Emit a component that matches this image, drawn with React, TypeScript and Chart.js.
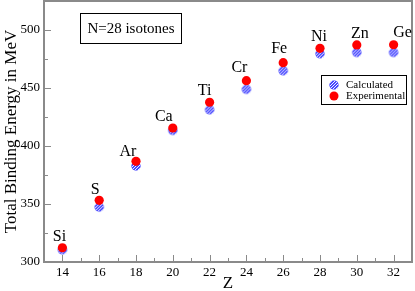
import React, { useEffect, useRef } from 'react';
import { Chart, registerables } from 'chart.js';

Chart.register(...registerables);

const elements = ['Si', 'S', 'Ar', 'Ca', 'Ti', 'Cr', 'Fe', 'Ni', 'Zn', 'Ge'];
const zValues = [14, 16, 18, 20, 22, 24, 26, 28, 30, 32];
const calculated = [310.6, 347.4, 382.8, 413.5, 431.3, 448.9, 464.9, 479.6, 480.7, 480.7];
const experimental = [312.3, 353.2, 386.8, 415.5, 437.7, 456.3, 471.8, 484.2, 487.1, 487.3];
const xTicks = [14, 16, 18, 20, 22, 24, 26, 28, 30, 32];
const yTicks = [300, 350, 400, 450, 500];
const xMinorTicks = [13, 15, 17, 19, 21, 23, 25, 27, 29, 31, 33];
const yMinorTicks = [325, 375, 425, 475, 525];

// label placement offsets (pixels) relative to the experimental point
const labelDx = [-3, -4, -8, -9, -5, -7, -4, -1, 3, 9];
const labelDy = [-11, -10, -10, -11, -11, -13, -14, -12, -11, -12];

const SERIF = '"Liberation Serif", "Times New Roman", Times, serif';
const FRAME = '#8a8a8a';

function makeHatchMarker(r: number): HTMLCanvasElement {
  const size = Math.ceil(r * 2 + 2);
  const c = document.createElement('canvas');
  c.width = size;
  c.height = size;
  const g = c.getContext('2d')!;
  const cx = size / 2;
  g.beginPath();
  g.arc(cx, cx, r, 0, Math.PI * 2);
  g.fillStyle = '#0000ff';
  g.fill();
  g.save();
  g.beginPath();
  g.arc(cx, cx, r, 0, Math.PI * 2);
  g.clip();
  g.strokeStyle = '#ffffff';
  g.lineWidth = 1.1;
  for (let k = -size; k < size * 2; k += 3) {
    g.beginPath();
    g.moveTo(k, size);
    g.lineTo(k + size, 0);
    g.stroke();
  }
  g.restore();
  return c;
}

function makeDecorPlugin(hm: HTMLCanvasElement) {
  return {
    id: 'decor',
    afterDraw(chart: any) {
      const { ctx, chartArea: a, scales } = chart;
      const xs = scales.x;
      const ys = scales.y;
      ctx.save();
      // frame
      ctx.strokeStyle = FRAME;
      ctx.lineWidth = 2;
      ctx.strokeRect(a.left, a.top, a.right - a.left, a.bottom - a.top);
      // ticks (inward)
      ctx.lineWidth = 1;
      ctx.beginPath();
      for (const v of xTicks) {
        const px = Math.round(xs.getPixelForValue(v)) + 0.5;
        ctx.moveTo(px, a.bottom);
        ctx.lineTo(px, a.bottom - 7);
      }
      for (const v of xMinorTicks) {
        const px = Math.round(xs.getPixelForValue(v)) + 0.5;
        ctx.moveTo(px, a.bottom);
        ctx.lineTo(px, a.bottom - 4);
      }
      for (const v of yTicks) {
        const py = Math.round(ys.getPixelForValue(v)) + 0.5;
        ctx.moveTo(a.left, py);
        ctx.lineTo(a.left + 7, py);
      }
      for (const v of yMinorTicks) {
        const py = Math.round(ys.getPixelForValue(v)) + 0.5;
        ctx.moveTo(a.left, py);
        ctx.lineTo(a.left + 4, py);
      }
      ctx.stroke();

      // axis titles
      ctx.fillStyle = '#000';
      ctx.font = `17px ${SERIF}`;
      ctx.textAlign = 'center';
      ctx.textBaseline = 'middle';
      ctx.fillText('Z', (a.left + a.right) / 2, 284);
      ctx.save();
      ctx.translate(12, (a.top + a.bottom) / 2);
      ctx.rotate(-Math.PI / 2);
      ctx.fillText('Total Binding Energy in MeV', 0, 0);
      ctx.restore();

      // element labels
      ctx.font = `16px ${SERIF}`;
      ctx.textAlign = 'center';
      ctx.textBaseline = 'middle';
      elements.forEach((el, i) => {
        const px = xs.getPixelForValue(zValues[i]);
        const py = ys.getPixelForValue(experimental[i]);
        ctx.fillText(el, px + labelDx[i], py + labelDy[i]);
      });

      // annotation box
      ctx.strokeStyle = '#000';
      ctx.lineWidth = 1;
      ctx.strokeRect(80.5, 13.5, 101, 30);
      ctx.font = `15px ${SERIF}`;
      ctx.fillText('N=28 isotones', 131, 29);

      // legend
      ctx.strokeRect(321.5, 75.5, 85, 29);
      ctx.drawImage(hm, 334 - hm.width / 2, 85 - hm.height / 2);
      ctx.beginPath();
      ctx.arc(334, 96, 4.5, 0, Math.PI * 2);
      ctx.fillStyle = '#ff0000';
      ctx.fill();
      ctx.fillStyle = '#000';
      ctx.font = `11px ${SERIF}`;
      ctx.textAlign = 'left';
      ctx.fillText('Calculated', 346, 85);
      ctx.fillText('Experimental', 346, 96);
      ctx.restore();
    },
  };
}

export default function App() {
  const ref = useRef<HTMLCanvasElement>(null);
  useEffect(() => {
    document.body.style.margin = '0';
    const hatch = makeHatchMarker(4.6);
    const chart = new Chart(ref.current!, {
      type: 'scatter',
      data: {
        datasets: [
          {
            label: 'Experimental',
            data: zValues.map((z, i) => ({ x: z, y: experimental[i] })),
            pointStyle: 'circle',
            pointRadius: 4.6,
            backgroundColor: '#ff0000',
            borderColor: '#ff0000',
            borderWidth: 0,
            order: 0,
          },
          {
            label: 'Calculated',
            data: zValues.map((z, i) => ({ x: z, y: calculated[i] })),
            pointStyle: hatch as any,
            pointRadius: 4.6,
            backgroundColor: '#0000ff',
            borderColor: '#0000ff',
            order: 1,
          },
        ],
      },
      options: {
        animation: false,
        responsive: false,
        maintainAspectRatio: false,
        layout: { autoPadding: false, padding: { top: 1, right: 3, left: 0, bottom: 0 } },
        plugins: { legend: { display: false }, tooltip: { enabled: false } },
        scales: {
          x: {
            type: 'linear',
            min: 13,
            max: 33,
            grid: { display: false, drawTicks: false },
            border: { display: false },
            ticks: { color: '#000', font: { family: SERIF, size: 13 }, padding: 3 },
            afterBuildTicks: (s: any) => {
              s.ticks = xTicks.map((v) => ({ value: v }));
            },
            afterFit: (s: any) => {
              s.height = 29;
              s.paddingLeft = 0;
              s.paddingRight = 0;
              s.paddingTop = 0;
              s.paddingBottom = 0;
            },
          },
          y: {
            type: 'linear',
            min: 300,
            max: 525,
            grid: { display: false, drawTicks: false },
            border: { display: false },
            ticks: { color: '#000', font: { family: SERIF, size: 13 }, padding: 4 },
            afterBuildTicks: (s: any) => {
              s.ticks = yTicks.map((v) => ({ value: v }));
            },
            afterFit: (s: any) => {
              s.width = 44;
              s.paddingLeft = 0;
              s.paddingRight = 0;
              s.paddingTop = 0;
              s.paddingBottom = 0;
            },
          },
        },
      },
      plugins: [makeDecorPlugin(hatch)],
    });
    return () => chart.destroy();
  }, []);
  return (
    <div style={{ width: 415, height: 291, background: '#fff' }}>
      <canvas ref={ref} width={415} height={291} style={{ display: 'block' }} />
    </div>
  );
}
